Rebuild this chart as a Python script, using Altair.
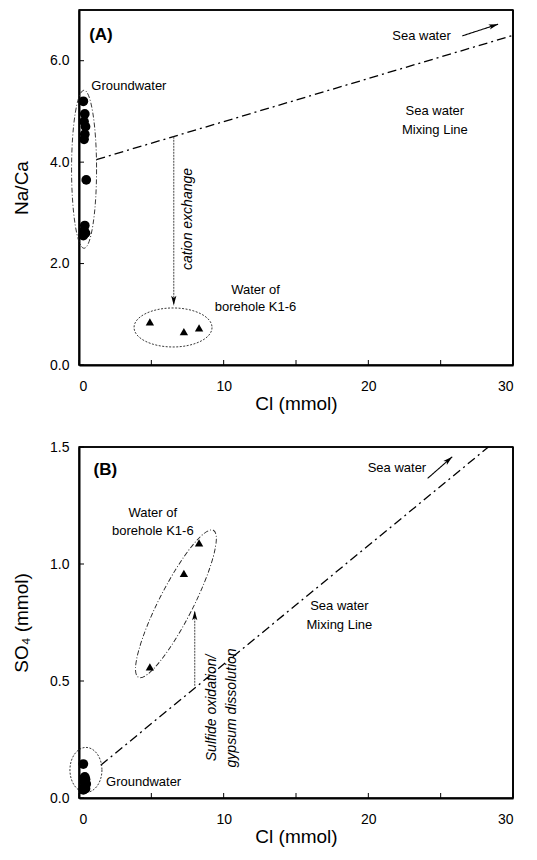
import altair as alt
import pandas as pd

# ---------------- data ----------------
gw_cl = [0.3, 0.4, 0.35, 0.45, 0.4, 0.35, 0.5, 0.4, 0.35, 0.45, 0.3]
gw_naca = [5.2, 4.95, 4.8, 4.7, 4.55, 4.45, 3.65, 2.75, 2.65, 2.6, 2.55]
gw_so4 = [0.145, 0.09, 0.085, 0.08, 0.075, 0.07, 0.06, 0.05, 0.045, 0.04, 0.035]

bh_cl = [4.9, 7.25, 8.3]
bh_naca = [0.85, 0.66, 0.73]
bh_so4 = [0.56, 0.96, 1.09]

mixA_cl = [1.2, 30.0]
mixA_naca = [4.05, 6.5]
mixB_cl = [1.5, 28.3]
mixB_so4 = [0.14, 1.5]

x_labels = [0, 10, 20, 30]
x_ticks = [0, 5, 10, 15, 20, 25, 30]
yA_ticks = [0, 2, 4, 6]
yB_ticks = [0, 0.5, 1.0, 1.5]

# ---------------- style ----------------
FONT = "Liberation Sans"
W = 434
HA = 355
HB = 351
K = 0.5523
ANN = 13


def ellipse_path(a):
    """unit ellipse path (rx=a, ry=1) made of cubic curves"""
    f = lambda v: f"{v:.4f}"
    return (f"M{f(a)},0 C{f(a)},{f(K)} {f(a*K)},1 0,1 "
            f"C{f(-a*K)},1 {f(-a)},{f(K)} {f(-a)},0 "
            f"C{f(-a)},{f(-K)} {f(-a*K)},-1 0,-1 "
            f"C{f(a*K)},-1 {f(a)},{f(-K)} {f(a)},0 Z")


ARROW = "M0,0 L0.5,1.8 L0,1.35 L-0.5,1.8 Z"


def panel(ydom, yticks, yfmt, ytitle, gw_y, bh_y, mix_x, mix_y, H,
          texts_plain, texts_bold, texts_italic_rot, ellipses, arrows):
    xs = alt.Scale(domain=[0, 30], nice=False, zero=False)
    ys = alt.Scale(domain=ydom, nice=False, zero=False)
    xaxis = alt.Axis(values=x_labels, format="d", ticks=False, tickSize=0,
                     labelPadding=14, labelFontSize=14, labelFont=FONT,
                     labelColor="black", title="Cl (mmol)", titleFont=FONT,
                     titleFontSize=19, titleFontWeight="normal",
                     titleColor="black", titlePadding=1, domainColor="black",
                     domainWidth=2, grid=False)
    yaxis = alt.Axis(values=yticks, format=yfmt, ticks=False, tickSize=0,
                     labelPadding=10, labelFontSize=14, labelFont=FONT,
                     labelColor="black", title=ytitle, titleFont=FONT,
                     titleFontSize=19, titleFontWeight="normal",
                     titleColor="black", titlePadding=18, domainColor="black",
                     domainWidth=2, grid=False)
    X = lambda f="x": alt.X(f"{f}:Q", scale=xs, axis=xaxis)
    Y = lambda f="y": alt.Y(f"{f}:Q", scale=ys, axis=yaxis)

    layers = []
    # frame (top and right edges)
    one = pd.DataFrame({"k": [0]})
    layers.append(alt.Chart(one).mark_rule(color="black", strokeWidth=1.5).encode(
        x=alt.value(0), x2=alt.value(W), y=alt.value(0)))
    layers.append(alt.Chart(one).mark_rule(color="black", strokeWidth=1.8).encode(
        x=alt.value(W), y=alt.value(0), y2=alt.value(H)))
    # inward ticks
    xt = pd.DataFrame({"x": x_ticks})
    layers.append(alt.Chart(xt).mark_rule(color="black", strokeWidth=1).encode(
        x=X(), y=alt.value(H), y2=alt.value(H - 5)))
    yt = pd.DataFrame({"y": yticks})
    layers.append(alt.Chart(yt).mark_rule(color="black", strokeWidth=1).encode(
        y=Y(), x=alt.value(0), x2=alt.value(5)))

    # mixing line
    mix = pd.DataFrame({"x": mix_x, "y": mix_y})
    layers.append(alt.Chart(mix).mark_line(color="black", strokeWidth=1.3,
                                           strokeDash=[9, 4, 2, 4]).encode(x=X(), y=Y()))

    # ellipses
    for (cx, cy, wpx, hpx, ang, dash) in ellipses:
        e = pd.DataFrame({"x": [cx], "y": [cy]})
        layers.append(alt.Chart(e).mark_point(
            shape=ellipse_path(wpx / hpx), filled=False, color="#222",
            strokeWidth=0.9, strokeDash=dash, opacity=1).encode(
            x=X(), y=Y(), size=alt.value(hpx * hpx), angle=alt.value(ang)))

    # arrows
    for (x0, y0, x1, y1, ang, dash, col) in arrows:
        seg = pd.DataFrame({"x": [x0], "y": [y0], "x2": [x1], "y2": [y1]})
        layers.append(alt.Chart(seg).mark_rule(color=col, strokeWidth=1.1,
                                               strokeDash=dash).encode(
            x=X(), y=Y(), x2="x2:Q", y2="y2:Q"))
        tip = pd.DataFrame({"x": [x1], "y": [y1]})
        layers.append(alt.Chart(tip).mark_point(
            shape=ARROW, filled=True, color="black", opacity=1).encode(
            x=X(), y=Y(), size=alt.value(110), angle=alt.value(ang)))

    # data points
    gw = pd.DataFrame({"x": gw_cl, "y": gw_y})
    layers.append(alt.Chart(gw).mark_point(shape="circle", filled=True,
                                           color="black", opacity=1).encode(
        x=X(), y=Y(), size=alt.value(95)))
    bh = pd.DataFrame({"x": bh_cl, "y": bh_y})
    layers.append(alt.Chart(bh).mark_point(shape="triangle-up", filled=True,
                                           color="black", opacity=1).encode(
        x=X(), y=Y(), size=alt.value(70)))

    # texts
    for (tx, ty, lab, align) in texts_plain:
        t = pd.DataFrame({"x": [tx], "y": [ty], "t": [lab]})
        layers.append(alt.Chart(t).mark_text(font=FONT, fontSize=ANN, color="black",
                                             align=align, baseline="middle").encode(
            x=X(), y=Y(), text="t:N"))
    for (tx, ty, lab) in texts_bold:
        t = pd.DataFrame({"x": [tx], "y": [ty], "t": [lab]})
        layers.append(alt.Chart(t).mark_text(font=FONT, fontSize=17, fontWeight="bold",
                                             color="black", align="left",
                                             baseline="middle").encode(
            x=X(), y=Y(), text="t:N"))
    for (tx, ty, lab) in texts_italic_rot:
        t = pd.DataFrame({"x": [tx], "y": [ty], "t": [lab]})
        layers.append(alt.Chart(t).mark_text(font=FONT, fontSize=14, fontStyle="italic",
                                             color="black", angle=270, align="center",
                                             baseline="middle").encode(
            x=X(), y=Y(), text="t:N"))

    return alt.layer(*layers).properties(width=W, height=H)


panelA = panel(
    [0, 7], yA_ticks, ".1f", "Na/Ca", gw_naca, bh_naca, mixA_cl, mixA_naca, HA,
    texts_plain=[
        (0.85, 5.5, "Groundwater", "left"),
        (24.6, 5.01, "Sea water", "center"),
        (24.6, 4.63, "Mixing Line", "center"),
        (12.2, 1.48, "Water of", "center"),
        (12.2, 1.14, "borehole K1-6", "center"),
        (25.7, 6.49, "Sea water", "right"),
    ],
    texts_bold=[(0.7, 6.5, "(A)")],
    texts_italic_rot=[(7.5, 2.88, "cation exchange")],
    ellipses=[
        (0.35, 3.86, 25, 158, 0, [5, 2, 1, 2]),
        (6.5, 0.74, 78, 39, 0, [2, 1.5]),
    ],
    arrows=[
        (26.5, 6.49, 28.97, 6.72, 72, [1, 0], "black"),
        (6.55, 4.5, 6.55, 1.18, 180, [2, 1], "#555"),
    ],
)

panelB = panel(
    [0, 1.5], yB_ticks, ".1f", "SO\u2084 (mmol)", gw_so4, bh_so4, mixB_cl, mixB_so4, HB,
    texts_plain=[
        (1.87, 0.07, "Groundwater", "left"),
        (18.0, 0.82, "Sea water", "center"),
        (18.0, 0.74, "Mixing Line", "center"),
        (5.1, 1.22, "Water of", "center"),
        (5.1, 1.14, "borehole K1-6", "center"),
        (24.0, 1.41, "Sea water", "right"),
    ],
    texts_bold=[(1.0, 1.40, "(B)")],
    texts_italic_rot=[(9.2, 0.385, "Sulfide oxidation/"),
                      (10.6, 0.385, "gypsum dissolution")],
    ellipses=[
        (0.48, 0.12, 32, 45, 0, [2, 1.5]),
        (6.7, 0.83, 34, 165, 27, [5, 2, 1, 2]),
    ],
    arrows=[
        (24.1, 1.366, 25.8, 1.458, 49, [1, 0], "black"),
        (8.0, 0.48, 8.0, 0.80, 0, [2, 1], "#555"),
    ],
)

chart = alt.vconcat(panelA, panelB, spacing=25).properties(
    padding={"left": 3, "top": 0, "right": 5, "bottom": 5}
).configure_view(stroke="black", strokeWidth=1.5)

chart.save("out.html", embed_options={"renderer": "svg", "actions": False})
